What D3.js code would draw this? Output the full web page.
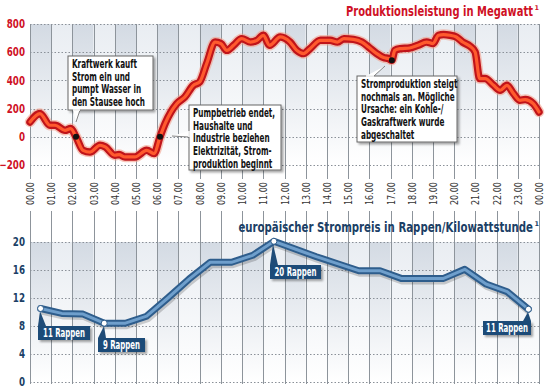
<!DOCTYPE html>
<html><head><meta charset="utf-8">
<script src="https://cdn.jsdelivr.net/npm/d3@7"></script>
<style>
html,body{margin:0;padding:0;background:#fff;}
svg{display:block;}
text{font-family:"DejaVu Sans",sans-serif;}
</style></head>
<body><svg id="c" width="547" height="390"></svg>
<script>
// ---- data ----
const hourLabels = ["00.00","01.00","02.00","03.00","04.00","05.00","06.00","07.00","08.00","09.00","10.00","11.00","12.00","13.00","14.00","15.00","16.00","17.00","18.00","19.00","20.00","21.00","22.00","23.00","00.00"];
const mwTicks = [800,600,400,200,0,-200];
const priceTicks = [20,16,12,8,4,0];
// production (MW) sampled along the day (hour of day)
const mwHours  = [0.0,0.47,0.94,1.18,1.65,1.92,2.17,2.5,2.83,3.3,3.55,4.0,4.2,4.48,4.95,5.5,5.85,6.13,6.37,6.92,7.3,7.7,8.0,8.33,8.73,9.0,9.28,9.6,9.98,10.4,10.7,11.0,11.3,11.8,12.26,12.58,12.9,13.2,13.7,14.15,14.5,14.8,15.25,15.65,15.96,16.35,16.67,16.9,17.06,17.2,17.45,17.9,18.3,18.7,19.0,19.26,19.5,19.8,20.1,20.4,20.75,20.99,21.2,21.46,21.86,22.17,22.49,22.8,23.1,23.35,23.73,24.0];
const mwValues = [105,165,82,82,46,58,0,-96,-108,-60,-72,-131,-126,-143,-143,-96,-119,0,94,235,282,365,389,519,672,661,613,649,696,672,684,720,649,708,672,613,590,625,684,684,672,696,691,672,637,590,562,555,543,613,625,630,649,672,661,720,725,720,708,672,642,601,413,413,365,330,365,306,259,264,235,176];
// price (Rappen/kWh), hourly values at the middle of each hour
const priceHours  = [0.5,1.5,2.5,3.5,4.5,5.5,6.5,7.5,8.5,9.5,10.5,11.5,12.5,13.5,14.5,15.5,16.5,17.5,18.5,19.5,20.5,21.5,22.5,23.5];
const priceValues = [10.5,9.8,9.7,8.4,8.4,9.4,12.0,14.7,17.1,17.1,18.1,20.1,19.0,17.9,16.9,15.9,15.9,14.8,14.8,14.8,16.1,14.0,12.9,10.4];
const topTitle = "Produktionsleistung in Megawatt";
const bottomTitle = "europäischer Strompreis in Rappen/Kilowattstunde";
const noteTexts = [
  ["Kraftwerk kauft","Strom ein und","pumpt Wasser in","den Stausee hoch"],
  ["Pumpbetrieb endet,","Haushalte und","Industrie beziehen","Elektrizität, Strom-","produktion beginnt"],
  ["Stromproduktion steigt","nochmals an. Mögliche","Ursache: ein Kohle-/","Gaskraftwerk wurde","abgeschaltet"]
];
const noteHours = [2.17, 6.13, 17.06];
const noteMW = [0, 0, 543];
const priceLabels = ["11 Rappen","9 Rappen","20 Rappen","11 Rappen"];
const priceLabelIdx = [0,3,11,23];

// ---- helpers: horizontal condensing via a scale transform around the text's x ----
function squeeze(sel, f){
  sel.each(function(){
    const ax = +(this.getAttribute("x") || 0);
    const prev = this.getAttribute("transform") || "";
    d3.select(this).attr("transform", `${prev} translate(${ax*(1-f)},0) scale(${f},1)`);
  });
}
function fitTo(node, target){ return target / node.getComputedTextLength(); }

// ---- layout ----
const svg = d3.select("#c");
const x = d3.scaleLinear().domain([0,24]).range([30,539]);
const yT = d3.scaleLinear().domain([-200,800]).range([165,24]);
const yB = d3.scaleLinear().domain([0,20]).range([382,242]);
const RED = "#cf1126", NAVY = "#1b3f66";

const defs = svg.append("defs");
function grad(id, c1){
  const g = defs.append("linearGradient").attr("id",id).attr("x1",0).attr("y1",0).attr("x2",0).attr("y2",1);
  g.append("stop").attr("offset","0%").attr("stop-color",c1);
  g.append("stop").attr("offset","100%").attr("stop-color","#ffffff");
}
grad("gA","#d3dae3"); grad("gB","#e9edf2");
const sh = defs.append("filter").attr("id","sh").attr("x","-20%").attr("y","-20%").attr("width","150%").attr("height","150%");
sh.append("feDropShadow").attr("dx",2).attr("dy",2).attr("stdDeviation",1.2).attr("flood-color","#000").attr("flood-opacity",0.35);

const hours = d3.range(24);
[[yT(800),yT(-200)],[yB(20),yB(0)]].forEach(([t,b])=>{
  svg.append("g").selectAll("rect").data(hours).join("rect")
    .attr("x",d=>x(d)).attr("y",t).attr("width",x(1)-x(0)).attr("height",b-t)
    .attr("fill",d=>d%2===0?"url(#gA)":"url(#gB)");
});
const vg = svg.append("g").attr("stroke","#8d949b").attr("stroke-width",1);
hourLabels.forEach((l,i)=>{
  vg.append("line").attr("x1",Math.round(x(i))+0.5).attr("x2",Math.round(x(i))+0.5).attr("y1",yT(800)).attr("y2",179);
  vg.append("line").attr("x1",Math.round(x(i))+0.5).attr("x2",Math.round(x(i))+0.5).attr("y1",211).attr("y2",yB(0)+2);
});
svg.append("g").selectAll("line").data(mwTicks).join("line")
  .attr("x1",x(0)).attr("x2",x(24)).attr("y1",d=>Math.round(yT(d))+0.5).attr("y2",d=>Math.round(yT(d))+0.5)
  .attr("stroke","#8a9098").attr("stroke-dasharray","1.5,2");
svg.append("g").selectAll("line").data(priceTicks).join("line")
  .attr("x1",x(0)).attr("x2",x(24)).attr("y1",d=>Math.round(yB(d))+0.5).attr("y2",d=>Math.round(yB(d))+0.5)
  .attr("stroke","#8a9098").attr("stroke-dasharray","1.5,2");

// y axes
const axT = d3.axisLeft(yT).tickValues(mwTicks).tickSize(0).tickPadding(0);
const gT = svg.append("g").attr("transform","translate(25,0)").call(axT);
gT.select(".domain").remove();
gT.selectAll("text").attr("fill",RED).attr("font-weight","bold").attr("font-size","11.5px").attr("font-family","DejaVu Sans");
squeeze(gT.selectAll("text"), 0.76);
const axB = d3.axisLeft(yB).tickValues(priceTicks).tickSize(0).tickPadding(0);
const gB = svg.append("g").attr("transform","translate(25,0)").call(axB);
gB.select(".domain").remove();
gB.selectAll("text").attr("fill",NAVY).attr("font-weight","bold").attr("font-size","11.5px").attr("font-family","DejaVu Sans");
squeeze(gB.selectAll("text"), 0.76);

// hour labels
const hl = svg.append("g").selectAll("text").data(hourLabels).join("text")
  .attr("font-size","10.5px").attr("fill","#333").text(d=>d);
hl.attr("transform",function(d,i){ const f = 23/this.getComputedTextLength(); return `translate(${x(i)+4},205) rotate(-90) scale(${f},1)`; });

// titles
const t1 = svg.append("text").attr("x",533).attr("y",16).attr("text-anchor","end")
  .attr("fill",RED).attr("font-weight","bold").attr("font-size","14.5px").text(topTitle);
squeeze(t1, fitTo(t1.node(),187));
svg.append("text").attr("x",534.5).attr("y",9.5).attr("fill",RED).attr("font-weight","bold").attr("font-size","6.5px").text("1");
const t2 = svg.append("text").attr("x",533).attr("y",232).attr("text-anchor","end")
  .attr("fill",NAVY).attr("font-weight","bold").attr("font-size","14.5px").text(bottomTitle);
squeeze(t2, fitTo(t2.node(),295));
svg.append("text").attr("x",534.5).attr("y",225.5).attr("fill",NAVY).attr("font-weight","bold").attr("font-size","6.5px").text("1");

// production line
const mwData = mwHours.map((h,i)=>[h,mwValues[i]]);
const lT = d3.line().x(d=>x(d[0])).y(d=>yT(d[1])).curve(d3.curveMonotoneX);
svg.append("path").datum(mwData).attr("d",lT).attr("fill","none").attr("stroke","#f3a08c").attr("stroke-opacity",0.6).attr("stroke-width",10.5).attr("stroke-linejoin","round").attr("stroke-linecap","round");
svg.append("path").datum(mwData).attr("d",lT).attr("fill","none").attr("stroke","#c0141a").attr("stroke-width",7.5).attr("stroke-linejoin","round").attr("stroke-linecap","round");
svg.append("path").datum(mwData).attr("d",lT).attr("fill","none").attr("stroke","#ff5a2e").attr("stroke-width",3.2).attr("stroke-linejoin","round").attr("stroke-linecap","round");

// price line
const pData = priceHours.map((h,i)=>[h,priceValues[i]]);
const lB = d3.line().x(d=>x(d[0])).y(d=>yB(d[1]));
svg.append("path").datum(pData).attr("d",lB).attr("fill","none").attr("stroke","#000").attr("stroke-opacity",0.18).attr("stroke-width",8).attr("transform","translate(1,2)").attr("stroke-linejoin","round");
svg.append("path").datum(pData).attr("d",lB).attr("fill","none").attr("stroke","#2e5d8c").attr("stroke-width",7).attr("stroke-linejoin","round").attr("stroke-linecap","round");
svg.append("path").datum(pData).attr("d",lB).attr("fill","none").attr("stroke","#6f9fcc").attr("stroke-width",3).attr("stroke-linejoin","round").attr("stroke-linecap","round");

// production notes
const boxes = [
  {x:68,y:56,w:85,h:54, tail:[[73,110],[80,110],[76,122]]},
  {x:189,y:105,w:92,h:65, tail:[[189,131],[189,137],[172,136]]},
  {x:357,y:76,w:100,h:66, tail:[[366,76],[374,76],[385,66]]}
];
let noteF = null;
boxes.forEach((b,i)=>{
  const g = svg.append("g");
  g.append("rect").attr("x",b.x).attr("y",b.y).attr("width",b.w).attr("height",b.h)
    .attr("fill","#fff").attr("stroke","#666").attr("stroke-width",1).attr("filter","url(#sh)");
  g.append("path").attr("d",d3.line()(b.tail)).attr("fill","#fff").attr("stroke","#666").attr("stroke-width",0.8);
  g.append("line").attr("x1",b.tail[0][0]).attr("x2",b.tail[1][0]).attr("y1",b.tail[0][1]).attr("y2",b.tail[1][1]).attr("stroke","#fff").attr("stroke-width",1.6);
  const tx = g.selectAll("text").data(noteTexts[i]).join("text")
    .attr("x",b.x+4).attr("y",(d,j)=>b.y+12.3+j*12.6)
    .attr("font-size","12px").attr("font-weight","bold").attr("fill","#111").text(d=>d);
  if (noteF === null) noteF = fitTo(tx.node(), 65);
  squeeze(tx, noteF);
  svg.append("circle").attr("cx",x(noteHours[i])).attr("cy",yT(noteMW[i])).attr("r",3).attr("fill","#111");
});

// price labels
const pboxes = [
  {x:38,y:326,w:52,h:14, tail:[[38,326],[46,326],[40,311]]},
  {x:98,y:338,w:47,h:14, tail:[[98,338],[106,338],[104,326]]},
  {x:270,y:265,w:51,h:14, tail:[[270,265],[278,265],[273,244]]},
  {x:483,y:321,w:48,h:14, tail:[[523,321],[531,321],[528,312]]}
];
let pF = null;
pboxes.forEach((b,i)=>{
  const g = svg.append("g");
  g.append("path").attr("d",d3.line()(b.tail)+"Z").attr("fill","#1f4c78");
  g.append("rect").attr("x",b.x).attr("y",b.y).attr("width",b.w).attr("height",b.h)
    .attr("fill","#1f4c78").attr("filter","url(#sh)");
  const t = g.append("text").attr("x",b.x+b.w/2).attr("y",b.y+11.5).attr("text-anchor","middle")
    .attr("font-size","12px").attr("font-weight","bold").attr("fill","#fff").text(priceLabels[i]);
  if (pF === null) pF = fitTo(t.node(), 42);
  squeeze(t, pF);
  const k = priceLabelIdx[i];
  svg.append("circle").attr("cx",x(priceHours[k])).attr("cy",yB(priceValues[k])).attr("r",3)
    .attr("fill","#fff").attr("stroke","#2e5d8c").attr("stroke-width",1);
});
</script></body></html>
